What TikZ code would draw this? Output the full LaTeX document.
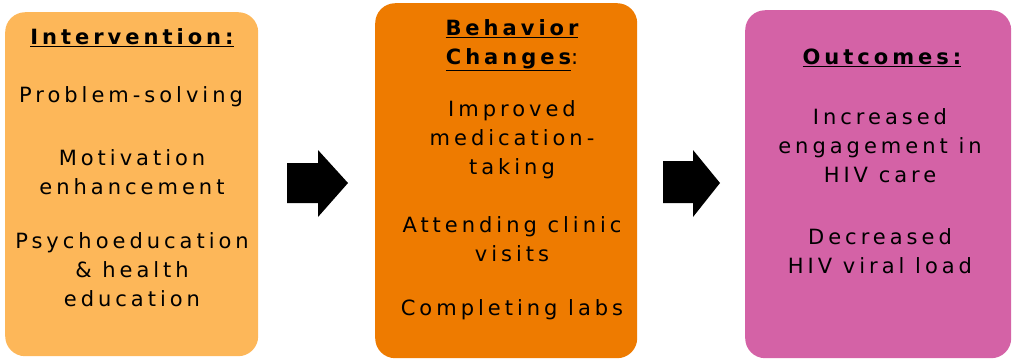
\documentclass[tikz,border=0pt]{standalone}
\usepackage{fontspec}
\setmainfont[LetterSpace=19,Ligatures={NoCommon}]{DejaVu Sans}
\usepackage{tikz}
\usetikzlibrary{positioning}
\definecolor{lightorange}{HTML}{FDB759}
\definecolor{darkorange}{HTML}{EE7B00}
\definecolor{pinkish}{HTML}{D462A6}
\tikzset{
  panel/.style={rounded corners=20pt, inner sep=0pt, anchor=north west},
  item/.style={align=center, font=\fontsize{21}{29}\selectfont, inner sep=0pt},
  blockarrow/.style={fill=black}
}

\begin{document}
\begin{tikzpicture}[x=1pt,y=-1pt]
            \useasboundingbox (0,0) rectangle (1012,360);
            \node[panel,fill=lightorange,minimum width=253pt,minimum height=344pt] (intv) at (5,12) {};
            \node[panel,fill=darkorange,minimum width=262pt,minimum height=355pt] (behav) at (375,3) {};
            \node[panel,fill=pinkish,minimum width=266pt,minimum height=348pt] (outc) at (745,10) {};

            \node[item] (intv-t) at (132,38) {\textbf{\underline{Intervention:}}};
            \node[item] (intv-1) at (131,97) {Problem-solving};
            \node[item] (intv-2) at (132,172) {Motivation\\enhancement};
            \node[item] (intv-3) at (132,270) {Psychoeducation\\\& health\\education};

            \node[item] (behav-t) at (512,45) {\textbf{\underline{Behavior}}\\\textbf{\underline{Changes}}:};
            \node[item] (behav-1) at (512,140) {Improved\\medication-\\taking};
            \node[item] (behav-2) at (512,239) {Attending clinic\\visits};
            \node[item] (behav-3) at (512,310) {Completing labs};

            \node[item] (outc-t) at (882,58) {\textbf{\underline{Outcomes:}}};
            \node[item] (outc-1) at (880,146) {Increased\\engagement in\\HIV care};
            \node[item] (outc-2) at (880,251) {Decreased\\HIV viral load};

            \fill[blockarrow] (287,163) -- (318,163) -- (318,150) -- (348,183) -- (318,217) -- (318,203) -- (287,203) -- cycle;
            \fill[blockarrow] (663,161) -- (693,161) -- (693,150) -- (720,183) -- (693,217) -- (693,203) -- (663,203) -- cycle;
          \end{tikzpicture}
\end{document}
